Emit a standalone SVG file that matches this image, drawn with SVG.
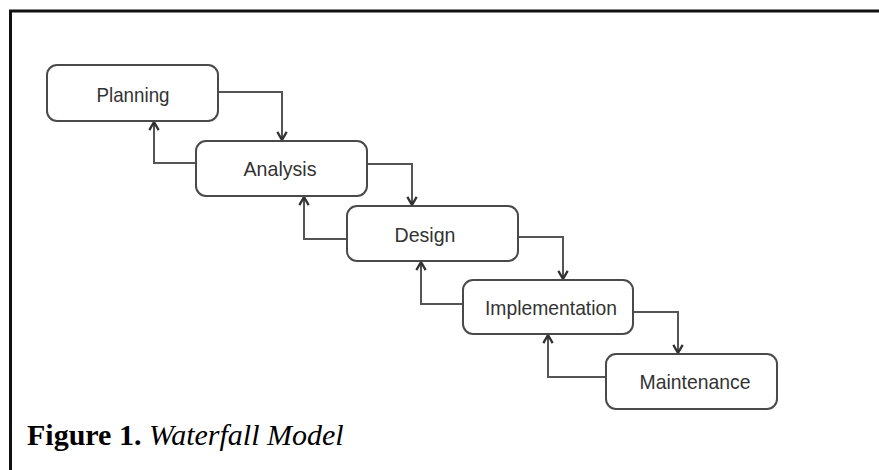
<svg xmlns="http://www.w3.org/2000/svg" width="879" height="470" viewBox="0 0 879 470">
  <defs>
    <style>
      .box { fill: #ffffff; stroke: #4a4a4a; stroke-width: 2; }
      .lbl { font-family: "Liberation Sans", Arial, sans-serif; font-size: 21px; fill: #333333; text-anchor: middle; }
      .conn { fill: none; stroke: #555555; stroke-width: 2; }
      .cap { font-family: "Liberation Serif", "Times New Roman", serif; font-size: 30px; fill: #000000; }
    </style>
    <marker id="arr" markerUnits="userSpaceOnUse" markerWidth="14" markerHeight="14" viewBox="-9 -6 11 12" refX="0" refY="0" orient="auto">
      <path d="M-7,-4 L0,0 L-7,4" fill="none" stroke="#333333" stroke-width="2"/>
      <path d="M-3,-1.8 L0.5,0 L-3,1.8 Z" fill="#333333"/>
    </marker>
  </defs>
  <rect x="0" y="0" width="879" height="470" fill="#ffffff"/>
  <g id="frame">
    <path d="M10.5,470 V11 H879" fill="none" stroke="#111111" stroke-width="3"/>
  </g>
  <g id="connectors">
    <path class="conn" d="M218,92 H282 V140" marker-end="url(#arr)"/>
    <path class="conn" d="M196,163 H154 V122" marker-end="url(#arr)"/>
    <path class="conn" d="M367,164 H412 V205" marker-end="url(#arr)"/>
    <path class="conn" d="M347,239 H304 V197" marker-end="url(#arr)"/>
    <path class="conn" d="M518,237 H563 V279" marker-end="url(#arr)"/>
    <path class="conn" d="M463,304 H421 V262" marker-end="url(#arr)"/>
    <path class="conn" d="M633,312 H678 V353" marker-end="url(#arr)"/>
    <path class="conn" d="M606,377 H548 V335" marker-end="url(#arr)"/>
  </g>
  <g id="planning">
    <rect class="box" x="47" y="65" width="171" height="56" rx="10"/>
    <text class="lbl" x="133" y="101.5" textLength="73" lengthAdjust="spacingAndGlyphs">Planning</text>
  </g>
  <g id="analysis">
    <rect class="box" x="196" y="141" width="171" height="55" rx="10"/>
    <text class="lbl" x="280" y="176" textLength="73" lengthAdjust="spacingAndGlyphs">Analysis</text>
  </g>
  <g id="design">
    <rect class="box" x="347" y="206" width="171" height="55" rx="10"/>
    <text class="lbl" x="425" y="241.5" textLength="61" lengthAdjust="spacingAndGlyphs">Design</text>
  </g>
  <g id="implementation">
    <rect class="box" x="463" y="280" width="170" height="54" rx="10"/>
    <text class="lbl" x="551" y="314.5" textLength="132" lengthAdjust="spacingAndGlyphs">Implementation</text>
  </g>
  <g id="maintenance">
    <rect class="box" x="606" y="354" width="171" height="55" rx="10"/>
    <text class="lbl" x="695" y="388.5" textLength="111" lengthAdjust="spacingAndGlyphs">Maintenance</text>
  </g>
  <g id="caption">
    <text class="cap" x="27" y="445"><tspan font-weight="bold">Figure 1.</tspan> <tspan font-style="italic">Waterfall Model</tspan></text>
  </g>
</svg>
